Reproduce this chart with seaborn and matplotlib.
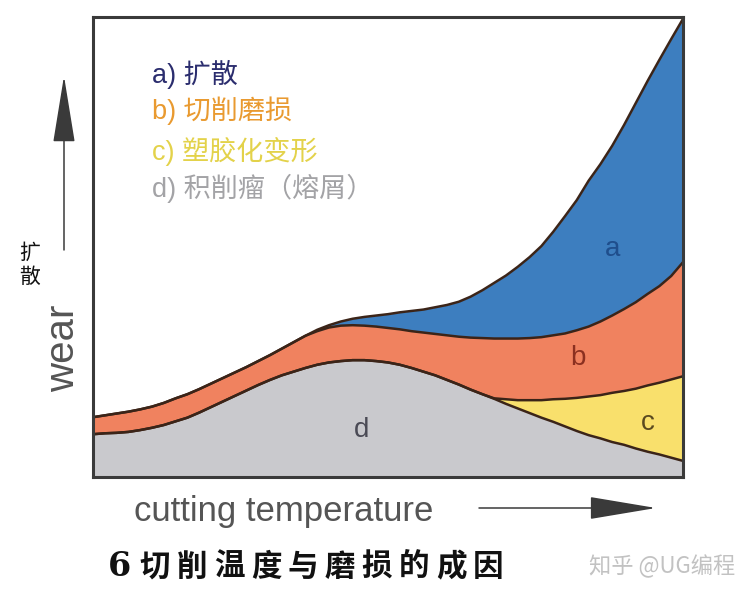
import matplotlib
matplotlib.use("Agg")
import matplotlib.pyplot as plt
import seaborn as sns
from matplotlib.patches import FancyArrowPatch

# cutting temperature (arbitrary units) and the upper edge of each wear band
temperature = [0, 2, 4, 6, 8, 10, 12, 14, 16, 18, 20, 22, 24, 26, 28, 30, 32, 34,
               36, 38, 40, 42, 44, 46, 48, 50, 52, 54, 56, 58, 60, 62, 64, 66, 68,
               70, 72, 74, 76, 78, 80, 82, 84, 86, 88, 90, 92, 94, 96, 98, 100]
# d) built-up edge (bottom band)
top_d = [9.3, 9.5, 9.6, 9.8, 10.2, 10.7, 11.3, 12.1, 12.9, 14.0, 15.2, 16.4, 17.6,
         18.8, 20.0, 21.1, 22.1, 22.9, 23.7, 24.4, 24.9, 25.2, 25.4, 25.4, 25.2,
         24.9, 24.4, 23.7, 22.9, 22.1, 21.1, 20.1, 19.0, 18.0, 17.0, 15.9, 14.9,
         13.9, 12.9, 12.0, 11.0, 10.0, 9.1, 8.4, 7.6, 7.0, 6.2, 5.5, 4.9, 4.2, 3.5]
# c) plastic deformation, splits off from d near 68
top_c = [9.3, 9.5, 9.6, 9.8, 10.2, 10.7, 11.3, 12.1, 12.9, 14.0, 15.2, 16.4, 17.6,
         18.8, 20.0, 21.1, 22.1, 22.9, 23.7, 24.4, 24.9, 25.2, 25.4, 25.4, 25.2,
         24.9, 24.4, 23.7, 22.9, 22.1, 21.1, 20.1, 19.0, 18.0, 17.1, 16.9, 16.7,
         16.7, 16.7, 16.9, 17.0, 17.2, 17.5, 17.8, 18.3, 18.7, 19.2, 19.9, 20.5,
         21.2, 21.9]
# b) abrasive wear
top_b = [13.0, 13.4, 13.8, 14.2, 14.7, 15.3, 16.1, 17.1, 18.0, 19.1, 20.3, 21.5,
         22.7, 23.9, 25.2, 26.5, 27.9, 29.3, 30.7, 31.7, 32.5, 32.9, 33.0, 32.9,
         32.7, 32.4, 32.1, 31.7, 31.4, 31.1, 30.8, 30.5, 30.3, 30.2, 30.1, 30.1,
         30.1, 30.2, 30.4, 30.8, 31.2, 31.9, 32.7, 33.8, 35.1, 36.5, 38.0, 39.8,
         41.5, 43.7, 46.7]
# a) diffusion (top band), splits off from b near 38
top_a = [13.0, 13.4, 13.8, 14.2, 14.7, 15.3, 16.1, 17.1, 18.0, 19.1, 20.3, 21.5,
         22.7, 23.9, 25.2, 26.5, 27.9, 29.3, 30.7, 32.0, 33.0, 33.8, 34.4, 34.8,
         35.1, 35.4, 35.8, 36.1, 36.4, 36.9, 37.4, 38.1, 39.2, 40.6, 42.2, 43.8,
         45.7, 47.8, 50.2, 53.3, 56.7, 60.2, 64.4, 68.0, 72.0, 76.5, 81.3, 86.1,
         90.7, 95.2, 99.6]

legend_items = ["a) 扩散", "b) 切削磨损", "c) 塑胶化变形", "d) 积削瘤（熔屑）"]
legend_colors = ["#2b2d6e", "#e99a30", "#e3d24a", "#a3a3a6"]
band_colors = {"a": "#3d7ebf", "b": "#f0825f", "c": "#f9e06c", "d": "#c9c9cd"}
edge = "#3b2418"
caption_chars = ["切", "削", "温", "度", "与", "磨", "损", "的", "成", "因"]

sns.set_theme(style="white")
plt.rcParams["font.family"] = ["Liberation Sans", "Noto Sans CJK SC", "DejaVu Sans"]

W, H = 753, 602
fig = plt.figure(figsize=(W / 100, H / 100), dpi=100)
fig.patch.set_facecolor("white")


def px(x, y):
    # image pixel -> figure fraction
    return x / W, 1 - y / H


ax = fig.add_axes([93 / W, 125 / H, 590 / W, 460 / H])

ax.fill_between(temperature, 0, top_d, color=band_colors["d"], lw=0)
ax.fill_between(temperature, top_d, top_c, color=band_colors["c"], lw=0)
ax.fill_between(temperature, top_c, top_b, color=band_colors["b"], lw=0)
ax.fill_between(temperature, top_b, top_a, color=band_colors["a"], lw=0)
for top in [top_d, top_c, top_b, top_a]:
    sns.lineplot(x=temperature, y=top, color=edge, lw=1.8, ax=ax, sort=False)

ax.set_xlim(0, 100)
ax.set_ylim(0, 100)
ax.set_xticks([])
ax.set_yticks([])
ax.set_xlabel("")
ax.set_ylabel("")
for s in ax.spines.values():
    s.set_visible(True)
    s.set_color("#3a3a3a")
    s.set_linewidth(2.2)

# band letters
ax.text(88, 49.5, "a", fontsize=20, color="#1f4e8c", ha="center", va="center")
ax.text(82.2, 25.8, "b", fontsize=20, color="#8b3020", ha="center", va="center")
ax.text(94.1, 11.7, "c", fontsize=20, color="#5a4a20", ha="center", va="center")
ax.text(45.6, 10.3, "d", fontsize=20, color="#4a4a55", ha="center", va="center")

# legend inside plot
for i, (txt, col) in enumerate(zip(legend_items, legend_colors)):
    y = [74, 111, 151, 188][i]
    fig.text(*px(152, y), txt, fontsize=19.5, color=col, ha="left", va="center")

# axis names and arrows
fig.text(*px(63, 348), "wear", fontsize=29, color="#555555", rotation=90,
         ha="center", va="center")
fig.text(*px(30, 265), "扩\n散", fontsize=15, color="#111111", ha="center",
         va="center", family=["Noto Sans CJK SC"], linespacing=1.15)
fig.add_artist(FancyArrowPatch(px(64, 250), px(64, 76), transform=fig.transFigure,
                               arrowstyle="-|>,head_length=4.3,head_width=0.7",
                               mutation_scale=10, color="#3a3a3a", lw=1.1,
                               shrinkA=0, shrinkB=0))

fig.text(*px(284, 511), "cutting temperature", fontsize=25, color="#555555",
         ha="center", va="center")
fig.add_artist(FancyArrowPatch(px(479, 508), px(656, 508), transform=fig.transFigure,
                               arrowstyle="-|>,head_length=4.3,head_width=0.72",
                               mutation_scale=10, color="#3a3a3a", lw=1.1,
                               shrinkA=0, shrinkB=0))

# caption, characters spaced out like the original print
fig.text(*px(119, 567), "6", fontsize=24, color="#111111", ha="center",
         va="center", fontweight="bold", family=["DejaVu Serif"])
for i, ch in enumerate(caption_chars):
    fig.text(*px(155 + 37 * i, 567), ch, fontsize=22, color="#111111",
             ha="center", va="center", fontweight="heavy",
             family=["Noto Sans CJK SC"])
fig.text(*px(735, 566), "知乎 @UG编程", fontsize=16, color="#c2c2c2",
         ha="right", va="center", family=["Noto Sans CJK SC", "DejaVu Sans"])

fig.savefig("out.png", dpi=100, facecolor="white")
